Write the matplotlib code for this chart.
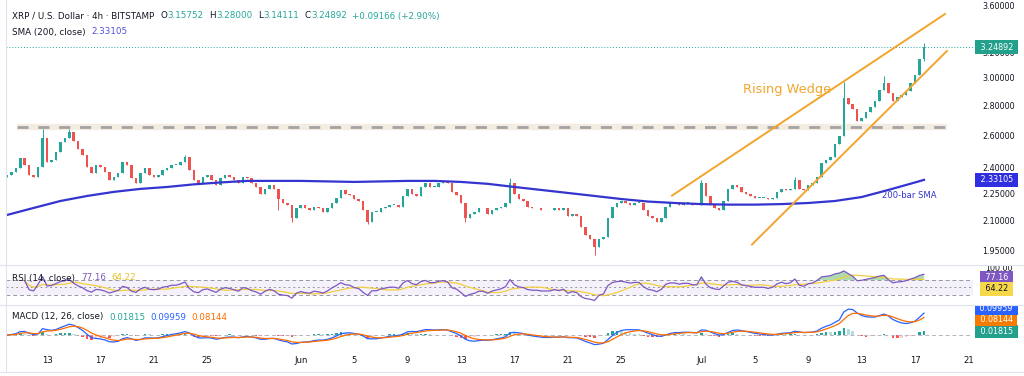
import matplotlib
matplotlib.use("Agg")
import matplotlib.pyplot as plt
import matplotlib.dates as mdates
from matplotlib.lines import Line2D
import numpy as np
import pandas as pd

# XRP / USD (Bitstamp), closes, one value per 8 hours
start = "2025-05-10"
closes = [
    2.36, 2.38, 2.40, 2.46, 2.42, 2.36, 2.35, 2.41, 2.59, 2.44,
    2.45, 2.50, 2.56, 2.59, 2.63, 2.57, 2.52, 2.48, 2.41, 2.37,
    2.42, 2.41, 2.38, 2.33, 2.35, 2.37, 2.44, 2.42, 2.34, 2.31,
    2.37, 2.40, 2.36, 2.35, 2.36, 2.39, 2.40, 2.42, 2.42, 2.44,
    2.47, 2.39, 2.33, 2.31, 2.35, 2.36, 2.33, 2.30, 2.34, 2.36,
    2.35, 2.33, 2.31, 2.35, 2.34, 2.31, 2.29, 2.25, 2.28, 2.30,
    2.28, 2.22, 2.20, 2.19, 2.12, 2.17, 2.19, 2.17, 2.16, 2.18,
    2.17, 2.15, 2.17, 2.20, 2.23, 2.27, 2.25, 2.245, 2.22, 2.21,
    2.16, 2.10, 2.15, 2.15, 2.17, 2.18, 2.19, 2.19, 2.18, 2.24,
    2.28, 2.25, 2.24, 2.29, 2.31, 2.29, 2.29, 2.31, 2.32, 2.31,
    2.26, 2.245, 2.20, 2.12, 2.14, 2.15, 2.17, 2.17, 2.14, 2.16,
    2.17, 2.18, 2.20, 2.31, 2.25, 2.22, 2.21, 2.18, 2.17, 2.17,
    2.16, 2.16, 2.16, 2.17, 2.16, 2.17, 2.13, 2.14, 2.13, 2.07,
    2.03, 2.01, 1.97, 2.01, 2.02, 2.12, 2.18, 2.20, 2.21, 2.20,
    2.19, 2.20, 2.20, 2.16, 2.13, 2.12, 2.10, 2.12, 2.18, 2.20,
    2.20, 2.19, 2.20, 2.20, 2.19, 2.19, 2.31, 2.24, 2.19, 2.17,
    2.16, 2.21, 2.28, 2.30, 2.29, 2.26, 2.25, 2.24, 2.23, 2.23,
    2.23, 2.22, 2.23, 2.26, 2.28, 2.27, 2.28, 2.33, 2.28, 2.27,
    2.30, 2.31, 2.35, 2.43, 2.45, 2.47, 2.55, 2.60, 2.86, 2.82,
    2.78, 2.70, 2.72, 2.76, 2.80, 2.84, 2.92, 2.97, 2.90, 2.84,
    2.87, 2.88, 2.91, 2.97, 3.03, 3.15752, 3.24892,
]
first_open = 2.35
# bars with a visible wick beyond the body
hi_bars = [8, 14, 40, 113, 156, 177, 188, 197, 206]
hi_vals = [2.65, 2.65, 2.48, 2.34, 2.33, 2.35, 2.98, 3.02, 3.28]
lo_bars = [61, 64, 81, 103, 132, 206]
lo_vals = [2.16, 2.10, 2.09, 2.10, 1.93, 3.14111]

# 200-bar SMA (4h), days after start
sma_days = [0, 2, 4, 6, 8, 10, 12, 14, 16, 18, 20, 22, 24, 26, 28, 30, 32, 34,
            36, 38, 40, 42, 44, 46, 48, 50, 52, 54, 56, 58, 60, 62, 64, 66, 68, 68.67]
sma_vals = [2.135, 2.173, 2.211, 2.239, 2.262, 2.279, 2.290, 2.305, 2.316, 2.325,
            2.325, 2.325, 2.322, 2.319, 2.322, 2.325, 2.325, 2.319, 2.308, 2.290,
            2.273, 2.256, 2.239, 2.222, 2.208, 2.200, 2.194, 2.191, 2.191, 2.194,
            2.200, 2.211, 2.233, 2.273, 2.316, 2.331]

# drawings: horizontal resistance and rising wedge (days after start, price)
resist_days = [0.75, 70.4]
resist_level = 2.66
wedge_up_days = [49.8, 70.24]
wedge_up = [2.241, 3.529]
wedge_lo_days = [55.79, 70.39]
wedge_lo = [1.983, 3.2175]

# last values shown in legends / scale labels
last_close, last_sma = 3.24892, 2.33105
rsi_last, rsi_ma_last = 77.16, 64.22
macd_last, signal_last, hist_last = 0.09959, 0.08144, 0.01815

price_ticks = [3.6, 3.2, 3.0, 2.8, 2.6, 2.4, 2.25, 2.1, 1.95]
date_ticks = ["2025-05-13", "2025-05-17", "2025-05-21", "2025-05-25", "2025-06-01",
              "2025-06-05", "2025-06-09", "2025-06-13", "2025-06-17", "2025-06-21",
              "2025-06-25", "2025-07-01", "2025-07-05", "2025-07-09", "2025-07-13",
              "2025-07-17", "2025-07-21"]
date_labels = ["13", "17", "21", "25", "Jun", "5", "9", "13", "17", "21", "25",
               "Jul", "5", "9", "13", "17", "21"]

UP, DN = "#26a69a", "#ef5350"
TXT = "#131722"
SMA_C = "#3434d0"
ORANGE = "#f2a52c"
RSI_C, RSI_MA_C = "#7e57c2", "#f2cf3c"
MACD_C, SIG_C = "#2962ff", "#ff6d00"
FS = 5.8      # scale labels
FS_LEG = 6.3  # pane legends

W, H = 1024, 376
fig = plt.figure(figsize=(W / 100, H / 100), dpi=100, facecolor="white")


def px_box(x0, y0, x1, y1):
    return [x0 / W, 1 - y1 / H, (x1 - x0) / W, (y1 - y0) / H]


ax = fig.add_axes(px_box(6, 0, 973, 265))
ax_r = fig.add_axes(px_box(6, 265, 973, 305), sharex=ax)
ax_m = fig.add_axes(px_box(6, 305, 973, 348), sharex=ax)
sc = fig.add_axes(px_box(973, 0, 1024, 265))
sc_r = fig.add_axes(px_box(973, 265, 1024, 305))
sc_m = fig.add_axes(px_box(973, 305, 1024, 348))

t0 = mdates.date2num(pd.Timestamp(start))
xs = mdates.date2num(pd.date_range(start, periods=len(closes), freq="8h"))

c = np.array(closes)
o = np.array([first_open] + closes[:-1])
hi = np.maximum(o, c)
lo = np.minimum(o, c)
hi[hi_bars] = hi_vals
lo[lo_bars] = lo_vals
cols = np.where(c >= o, UP, DN)

# ---- price pane
ax.set_yscale("log")
ax.vlines(xs, lo, hi, colors=cols, lw=0.7, zorder=2)
ax.bar(xs, np.maximum(np.abs(c - o), 0.004), bottom=np.minimum(o, c), width=0.19,
       color=cols, lw=0, zorder=2)
ax.plot(t0 + np.array(sma_days), sma_vals, color=SMA_C, lw=1.6, zorder=3)
rx = t0 + np.array(resist_days)
ax.plot(rx, [resist_level] * 2, color="#f4ece0", lw=4.5, solid_capstyle="butt", zorder=1)
ax.plot(rx, [resist_level] * 2, color="#a3a3a3", lw=2, dashes=(4, 3.5), zorder=1.5)
ax.plot(t0 + np.array(wedge_up_days), wedge_up, color=ORANGE, lw=1.4, zorder=4)
ax.plot(t0 + np.array(wedge_lo_days), wedge_lo, color=ORANGE, lw=1.4, zorder=4)
ax.axhline(last_close, color=UP, lw=0.7, ls=(0, (1, 2)), zorder=1)
ax.text(t0 + 58.4, 2.92, "Rising Wedge", color=ORANGE, fontsize=9.3,
        ha="center", va="center")
ax.text(t0 + 67.6, 2.24, "200-bar SMA", color=SMA_C, fontsize=6.1,
        ha="center", va="center")
ax.set_ylim(1.884, 3.655)
ax.set_xlim(t0 - 0.07, t0 + 72.34)

# ---- RSI pane
s = pd.Series(closes)
d = s.diff()
gain = d.clip(lower=0).ewm(alpha=1 / 9, adjust=True).mean()
loss = (-d.clip(upper=0)).ewm(alpha=1 / 9, adjust=True).mean()
rsi = (100 - 100 / (1 + gain / loss)).to_numpy()
rsi[:4] = np.nan  # warm-up, no bars before the window
rsi_ma = pd.Series(rsi).rolling(9, min_periods=1).mean().to_numpy()
ax_r.axhspan(30, 70, color=RSI_C, alpha=0.08, lw=0)
for lvl, ls in [(70, (0, (4, 3))), (50, (0, (2, 3))), (30, (0, (4, 3)))]:
    ax_r.axhline(lvl, color="#9598a1", lw=0.7, ls=ls)
ok = np.nan_to_num(rsi) > 70
ax_r.fill_between(xs, 70, np.nan_to_num(rsi, nan=70), where=ok, interpolate=True,
                  color="#4caf50", alpha=0.45, lw=0)
ax_r.plot(xs, rsi_ma, color=RSI_MA_C, lw=0.9)
ax_r.plot(xs, rsi, color=RSI_C, lw=0.9)
ax_r.set_ylim(3, 110)

# ---- MACD pane (12/26/9 on 4h bars -> 6/13/4.5 on these 8h bars)
macd = (s.ewm(span=6, adjust=False).mean() - s.ewm(span=13, adjust=False).mean())
sig = macd.ewm(span=4.5, adjust=False).mean()
hist = (macd - sig).to_numpy()
rising = np.r_[True, np.diff(hist) >= 0]
hcol = np.where(hist >= 0, np.where(rising, "#26a69a", "#b2dfdb"),
                np.where(rising, "#ffcdd2", "#ff5252"))
ax_m.axhline(0, color="#b2b5be", lw=0.7, ls=(0, (4, 3)))
ax_m.bar(xs, hist, width=0.19, color=hcol, lw=0)
ax_m.plot(xs, macd, color=MACD_C, lw=0.9)
ax_m.plot(xs, sig, color=SIG_C, lw=0.9)
ax_m.set_ylim(-0.068, 0.158)

ax_m.set_xticks(mdates.date2num(pd.to_datetime(date_ticks)))
ax_m.set_xticklabels(date_labels)
for a in (ax, ax_r, ax_m):
    for sp in a.spines.values():
        sp.set_visible(False)
    a.tick_params(length=0, labelleft=False, labelbottom=False)
    a.set_yticks([])
    a.minorticks_off()
ax_m.tick_params(labelbottom=True, labelsize=6.1, labelcolor=TXT, pad=5.8)

# ---- right scales
for s_ax, p_ax in ((sc, ax), (sc_r, ax_r), (sc_m, ax_m)):
    s_ax.set_yscale(p_ax.get_yscale())
    s_ax.set_ylim(p_ax.get_ylim())
    s_ax.set_xlim(0, 1)
    s_ax.axis("off")

for p in price_ticks:
    sc.text(0.5, p, f"{p:.5f}", ha="center", va="center", fontsize=FS,
            color=TXT, clip_on=True)
sc_r.text(0.5, 100, "100.00", ha="center", va="center", fontsize=FS,
          color=TXT, clip_on=True)


def place_tags(p_ax, vals, gap=11.5):
    # the first value keeps its place, later ones step aside from placed ones
    x_ref = p_ax.get_xlim()[0]
    placed = []
    for v in vals:
        y = p_ax.transData.transform((x_ref, v))[1]
        for _ in range(10):
            clash = [q for q in placed if abs(q - y) < gap]
            if not clash:
                break
            q = clash[0]
            y = q + gap if y > q else q - gap
        placed.append(y)
    inv = p_ax.transData.inverted()
    return [inv.transform((x_ref, y))[1] for y in placed]


def value_tags(s_ax, p_ax, items):
    ys = place_tags(p_ax, [it[0] for it in items])
    for (v, txt, fc, tc), y in zip(items, ys):
        s_ax.text(0.46, y, f" {txt} ", ha="center", va="center", fontsize=FS,
                  color=tc, clip_on=True, zorder=5,
                  bbox=dict(boxstyle="square,pad=0.28", fc=fc, ec="none"))


value_tags(sc, ax, [(last_close, f"{last_close:.5f}", "#22a08c", "white"),
                    (last_sma, f"{last_sma:.5f}", "#2f2fe0", "white")])
value_tags(sc_r, ax_r, [(rsi_last, f"{rsi_last:.2f}", RSI_C, "white"),
                        (rsi_ma_last, f"{rsi_ma_last:.2f}", "#f7d84a", TXT)])
value_tags(sc_m, ax_m, [(hist_last, f"{hist_last:.5f}", "#22a08c", "white"),
                        (signal_last, f"{signal_last:.5f}", "#f57c00", "white"),
                        (macd_last, f"{macd_last:.5f}", MACD_C, "white")])

# ---- pane separators and frame
for yy in (265, 305):
    fig.add_artist(Line2D([0, 1], [1 - yy / H] * 2, color="#e0e3eb", lw=0.8))
fig.add_artist(Line2D([0, 1], [1 - 372 / H] * 2, color="#e0e3eb", lw=0.8))
fig.add_artist(Line2D([5.5 / W] * 2, [1 - 372 / H, 1], color="#e0e3eb", lw=0.8))

# ---- legends
rend = fig.canvas.get_renderer()


def legend_row(x_px, y_px, parts):
    x = x_px
    for txt, col, gap in parts:
        t = fig.text(x / W, 1 - y_px / H, txt, color=col, fontsize=FS_LEG,
                     ha="left", va="center")
        x += t.get_window_extent(rend).width + gap


legend_row(12, 16, [("XRP / U.S. Dollar · 4h · BITSTAMP", TXT, 6),
                    ("O", TXT, 0), ("3.15752", UP, 6), ("H", TXT, 0), ("3.28000", UP, 6),
                    ("L", TXT, 0), ("3.14111", UP, 6), ("C", TXT, 0), ("3.24892", UP, 5),
                    ("+0.09166 (+2.90%)", UP, 0)])
legend_row(12, 32, [("SMA (200, close)", TXT, 6), ("2.33105", "#5252d8", 0)])
legend_row(12, 278, [("RSI (14, close)", TXT, 6), ("77.16", RSI_C, 5),
                     ("64.22", "#e3c12c", 0)])
legend_row(12, 317, [("MACD (12, 26, close)", TXT, 6), ("0.01815", UP, 5),
                     ("0.09959", MACD_C, 5), ("0.08144", SIG_C, 0)])

fig.savefig("out.png", dpi=100, facecolor="white")
